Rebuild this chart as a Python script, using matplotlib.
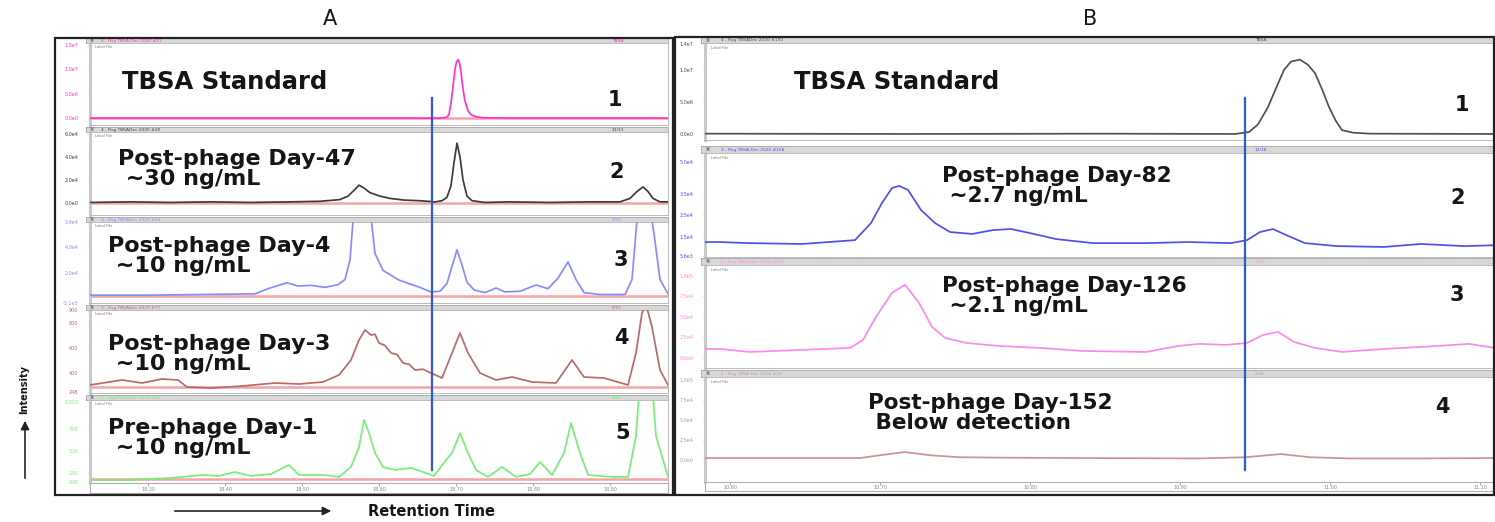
import matplotlib
matplotlib.use("Agg")
import matplotlib.pyplot as plt
from matplotlib.patches import Rectangle, FancyArrowPatch

W, H = 1495, 522

# ---------------- data (scan number vs. intensity) ----------------
# Panel A, retention window 1
a1_scan = [0, 100, 200, 300, 350, 357, 359, 361, 363, 365, 366.5, 368, 369.5, 371, 373, 375, 378, 381, 386, 392, 420, 500, 578]
a1_int = [0, 0, 0, 0, 0, 0.02, 0.08, 0.3, 0.65, 1.0, 1.15, 1.2, 1.13, 0.95, 0.6, 0.35, 0.15, 0.07, 0.03, 0.01, 0, 0, 0]

a2_scan = [0, 40, 80, 120, 160, 200, 230, 250, 258, 264, 269, 274, 280, 290, 300, 315, 330, 345, 352, 357, 361,
           364, 367, 370, 373, 377, 382, 395, 420, 460, 500, 530, 540, 547, 553, 558, 563, 570, 578]
a2_int = [0.05, 0.1, 0.05, 0.1, 0.05, 0.1, 0.15, 0.3, 0.6, 1.1, 1.55, 1.3, 0.9, 0.6, 0.4, 0.25, 0.2, 0.1, 0.2, 0.5, 1.5,
          3.5, 5.2, 4.0, 2.0, 0.6, 0.2, 0.05, 0.1, 0.05, 0.1, 0.1, 0.4, 1.0, 1.4, 1.0, 0.4, 0.1, 0.1]

a3_scan = [0, 60, 110, 165, 178, 197, 208, 221, 235, 248, 255, 260, 264, 272, 280, 285, 293, 309, 329, 341, 350, 357,
           362, 367, 372, 377, 384, 395, 406, 415, 430, 446, 458, 468, 478, 486, 494, 510, 535, 542, 548, 558, 564, 570, 578]
a3_int = [0.3, 0.3, 0.35, 0.4, 0.8, 1.25, 1.0, 1.05, 0.9, 1.1, 1.5, 3.0, 7.0, 9.0, 7.0, 3.5, 2.2, 1.45, 0.92, 0.55, 0.6,
          1.2, 2.5, 3.77, 2.6, 1.3, 0.7, 0.5, 0.85, 0.55, 0.6, 1.08, 0.8, 1.6, 2.85, 1.5, 0.5, 0.35, 0.35, 1.5, 7.0, 8.0,
          5.0, 1.5, 0.4]

a4_scan = [0, 32, 52, 72, 88, 97, 121, 153, 185, 209, 233, 249, 261, 269, 275, 281, 285, 289, 295, 301, 307, 313, 319,
           325, 333, 341, 352, 362, 370, 378, 390, 406, 422, 442, 466, 482, 494, 514, 538, 546, 552, 556, 562, 570, 578]
a4_int = [304, 344, 320, 352, 344, 288, 280, 296, 320, 312, 328, 384, 504, 664, 744, 704, 710, 640, 620, 560, 548, 480,
          470, 424, 430, 400, 360, 560, 720, 560, 400, 344, 368, 328, 320, 504, 368, 360, 304, 560, 880, 950, 768, 424, 304]

a5_scan = [0, 40, 80, 113, 129, 145, 161, 181, 199, 209, 233, 249, 261, 269, 274, 279, 285, 293, 305, 321, 333, 344,
           356, 362, 370, 378, 386, 398, 412, 426, 440, 450, 462, 474, 481, 490, 498, 522, 538, 546, 550, 562, 566, 578]
a5_int = [170, 170, 193, 227, 215, 261, 216, 238, 341, 227, 227, 205, 318, 545, 852, 704, 477, 318, 284, 307, 261, 216,
          398, 477, 704, 477, 284, 205, 318, 205, 238, 375, 227, 477, 818, 477, 227, 205, 205, 670, 1300, 1300, 670, 205]

# Panel B, retention window 2
b1_scan = [0, 200, 400, 530, 544, 553, 563, 572, 579, 586, 595, 603, 610, 617, 624, 631, 637, 648, 665, 790]
b1_int = [0.005, 0, 0.005, 0, 0.03, 0.15, 0.42, 0.75, 1.0, 1.13, 1.16, 1.08, 0.95, 0.7, 0.42, 0.2, 0.06, 0.02, 0.005, 0]

b2_scan = [0, 15, 44, 97, 150, 166, 177, 187, 194, 203, 216, 230, 245, 267, 288, 306, 325, 351, 388, 441, 483, 526,
           542, 555, 568, 581, 600, 632, 679, 716, 759, 790]
b2_int = [1.25, 1.25, 1.2, 1.16, 1.34, 2.14, 3.08, 3.78, 3.88, 3.69, 2.75, 2.14, 1.72, 1.63, 1.81, 1.86, 1.67, 1.39,
          1.2, 1.2, 1.25, 1.2, 1.34, 1.72, 1.86, 1.58, 1.2, 1.06, 1.02, 1.16, 1.06, 1.1]

b3_scan = [0, 15, 44, 97, 145, 158, 171, 187, 200, 214, 227, 240, 261, 293, 335, 378, 441, 473, 494, 521, 542, 558,
           573, 589, 610, 637, 679, 716, 764, 790]
b3_int = [1.1, 1.1, 0.73, 0.98, 1.22, 2.2, 5.0, 7.93, 8.9, 6.7, 3.78, 2.44, 1.83, 1.46, 1.22, 0.85, 0.73, 1.46, 1.71,
          1.59, 1.83, 2.8, 3.17, 1.95, 1.22, 0.73, 1.1, 1.34, 1.71, 1.22]

b4_scan = [0, 15, 155, 175, 200, 225, 255, 295, 375, 495, 540, 576, 605, 645, 715, 790]
b4_int = [0.25, 0.25, 0.25, 0.6, 1.0, 0.6, 0.35, 0.3, 0.25, 0.2, 0.35, 0.75, 0.35, 0.2, 0.2, 0.25]

a_marker = 342
b_marker = 540
a_base_levels = [0, 0, 0.2, 290, 180]

a_xticks = [58, 135, 212, 289, 366, 443, 520]
a_xticklabels = ["18.30", "18.40", "18.50", "18.60", "18.70", "18.80", "18.90"]
b_xticks = [25, 175, 325, 475, 625, 775]
b_xticklabels = ["10.60", "10.70", "10.80", "10.90", "11.00", "11.10"]

a_titles = ["TBSA Standard", "Post-phage Day-47\n ~30 ng/mL", "Post-phage Day-4\n ~10 ng/mL",
            "Post-phage Day-3\n ~10 ng/mL", "Pre-phage Day-1\n ~10 ng/mL"]
b_titles = ["TBSA Standard", "Post-phage Day-82\n ~2.7 ng/mL", "Post-phage Day-126\n ~2.1 ng/mL",
            "Post-phage Day-152\n Below detection"]
a_heads = ["6 - Rsg TBSA Dec 2020 #21", "4 - Rsg TBSADec 2020 #20", "3 - Rsg TBSADec 2020 #20",
           "2 - Rsg TBSADec 2020 #77", "1 - Rsg TBSADec 2020 #22"]
a_heads_r = ["TBSA", "11/11", "9/20", "8/10", "8/10"]
b_heads = ["4 - Rsg TBSADec 2020 #150", "3 - Rsg TBSA Dec 2020 #158", "2 - Rsg TBSA Dec 2020 #155",
           "1 - Rsg TBSA Dec 2020 #19"]
b_heads_r = ["TBSA", "12/18", "1/25", "2/24"]

a_yticks = [[0, 0.5, 1.0, 1.5], [0, 2, 4, 6], [-0.3, 2, 4, 5.9], [248, 400, 600, 800, 900], [148, 250, 500, 750, 1055]]
a_yticklabels = [["0.0e0", "5.0e6", "1.0e7", "1.5e7"], ["0.0e0", "2.0e4", "4.0e4", "6.0e4"],
                 ["-3.1e3", "2.0e4", "4.0e4", "5.9e4"], ["248", "400", "600", "800", "900"],
                 ["148", "250", "500", "750", "1,055"]]
b_yticks = [[0, 0.5, 1.0, 1.4], [0.6, 1.5, 2.5, 3.5, 5.0], [0, 2.5, 5, 7.5, 10], [0, 2.5, 5, 7.5, 10]]
b_yticklabels = [["0.0e0", "5.0e6", "1.0e7", "1.4e7"], ["5.6e3", "1.5e4", "2.5e4", "3.5e4", "5.0e4"],
                 ["0.0e0", "2.5e4", "5.0e4", "7.5e4", "1.0e5"], ["0.0e0", "2.5e4", "5.0e4", "7.5e4", "1.0e5"]]

# ---------------- layout / style ----------------
a_colors = ["#ff33cc", "#3c3c3c", "#8a8aff", "#b86a6a", "#77ee77"]
b_colors = ["#505050", "#5050e8", "#ff88ee", "#c89494"]
a_ylims = [(-0.14, 1.54), (-1.04, 6.17), (-0.3, 5.9), (240, 904), (136, 1079)]
b_ylims = [(-0.094, 1.42), (0.55, 5.42), (-1.22, 11.3), (-2.75, 10.4)]
a_rows = [(38, 43, 125), (127, 132, 215), (217, 222, 303), (305, 310, 393), (395, 400, 483)]
b_rows = [(37, 43, 140), (146, 153, 257), (258, 265, 368), (370, 377, 482)]
a_x0, a_x1 = 90, 668
b_x0, b_x1 = 705, 1495

fig = plt.figure(figsize=(W / 100, H / 100), dpi=100)
fig.patch.set_facecolor("white")


def box(x0, y0, x1, y1):
    return [x0 / W, 1 - y1 / H, (x1 - x0) / W, (y1 - y0) / H]


def draw_strip(x0, x1, row, scans, vals, color, ylim, yticks, ytl, head, head_r, head_r_px, xlim):
    hy, py0, py1 = row
    hax = fig.add_axes(box(x0 - 4, hy, x1, py0))
    hax.set_facecolor("#d8d8d8")
    hax.set_xticks([])
    hax.set_yticks([])
    for s in hax.spines.values():
        s.set_color("#a8a8a8")
        s.set_linewidth(0.6)
    hax.text(0.025, 0.45, head, color=color, fontsize=3.2, va="center", transform=hax.transAxes)
    hax.text(0.006, 0.45, "\u25a3", color="#777777", fontsize=3.2, va="center", transform=hax.transAxes)
    hax.text((head_r_px - x0 + 4) / (x1 - x0 + 4), 0.45, head_r, color=color, fontsize=3.2, va="center",
             transform=hax.transAxes)

    ax = fig.add_axes(box(x0, py0, x1, py1))
    ax.plot(scans, vals, color=color, lw=1.25, zorder=3)
    ax.set_xlim(xlim)
    ax.set_ylim(ylim)
    ax.set_xticks([])
    ax.set_yticks(yticks)
    ax.set_yticklabels(ytl, fontsize=3.5, color=color)
    ax.tick_params(axis="y", length=1.5, width=0.4, pad=7, color="#999999")
    for s in ax.spines.values():
        s.set_color("#b0b0b0")
        s.set_linewidth(0.6)
    ax.spines["left"].set_linewidth(2.2)
    ax.spines["left"].set_color("#c8c8c8")
    ax.text(0.008, 0.97, "Label File", fontsize=2.6, color="#777777", va="top", transform=ax.transAxes)
    return ax


# Panel A strips
a_data = [(a1_scan, a1_int), (a2_scan, a2_int), (a3_scan, a3_int), (a4_scan, a4_int), (a5_scan, a5_int)]
for i, (sc, iv) in enumerate(a_data):
    ax = draw_strip(a_x0, a_x1, a_rows[i], sc, iv, a_colors[i], a_ylims[i], a_yticks[i], a_yticklabels[i],
                    a_heads[i], a_heads_r[i], 612, (0, 578))
    ax.axhline(a_base_levels[i], color="#f5a3a3", lw=1.8, zorder=2)

# Panel B strips
b_data = [(b1_scan, b1_int), (b2_scan, b2_int), (b3_scan, b3_int), (b4_scan, b4_int)]
for i, (sc, iv) in enumerate(b_data):
    draw_strip(b_x0, b_x1, b_rows[i], sc, iv, b_colors[i], b_ylims[i], b_yticks[i], b_yticklabels[i],
               b_heads[i], b_heads_r[i], 1255, (0, 790))


def draw_time_band(x0, x1, y0, y1, xlim, ticks, labels):
    tax = fig.add_axes(box(x0, y0, x1, y1))
    tax.set_xlim(xlim)
    tax.set_ylim(0, 1)
    tax.set_yticks([])
    tax.set_xticks(ticks)
    tax.set_xticklabels([])
    tax.tick_params(axis="x", direction="in", length=2, width=0.5, color="#888888", top=True, bottom=False)
    for t, lab in zip(ticks, labels):
        tax.text(t, 0.35, lab, fontsize=3.5, color="#888888", ha="center", va="center")
    for s in tax.spines.values():
        s.set_color("#b0b0b0")
        s.set_linewidth(0.8)
    return tax


draw_time_band(a_x0, a_x1, 483, 493, (0, 578), a_xticks, a_xticklabels)
draw_time_band(b_x0, b_x1, 482, 491, (0, 790), b_xticks, b_xticklabels)

# marker lines at the expected TBSA retention time
for x0, x1, xl, m in [(a_x0, a_x1, (0, 578), a_marker), (b_x0, b_x1, (0, 790), b_marker)]:
    ov = fig.add_axes(box(x0, 38, x1, 495))
    ov.set_xlim(xl)
    ov.set_ylim(0, 1)
    ov.axis("off")
    ov.patch.set_alpha(0)
    ov.axvline(m, ymin=(495 - 470) / 457, ymax=(495 - 98) / 457, color="#3358c8", lw=1.6)

# outer frames
fig.patches.append(Rectangle((55 / W, 1 - 495 / H), (673 - 55) / W, (495 - 38) / H, transform=fig.transFigure,
                             fill=False, edgecolor="#222222", lw=1.6))
fig.patches.append(Rectangle((675 / W, 1 - 495 / H), (1494 - 675) / W, (495 - 37) / H, transform=fig.transFigure,
                             fill=False, edgecolor="#222222", lw=1.6))


def ftext(x, y, s, **kw):
    fig.text(x / W, 1 - y / H, s, **kw)


bold = dict(fontweight="bold", color="#151515", family="DejaVu Sans")
a_text_pos = [(122, 82), (118, 169), (108, 256), (108, 354), (108, 438)]
a_num_pos = [(615, 100), (617, 172), (621, 260), (621, 338), (623, 433)]
for i, t in enumerate(a_titles):
    size = 17.5 if i == 0 else 16
    ftext(*a_text_pos[i], t, fontsize=size, va="center", ha="left", linespacing=1.0, **bold)
    ftext(*a_num_pos[i], str(i + 1), fontsize=15, va="center", ha="center", **bold)

b_text_pos = [(794, 82), (942, 186), (942, 296), (868, 413)]
b_num_pos = [(1462, 105), (1458, 198), (1457, 295), (1442, 407)]
for i, t in enumerate(b_titles):
    size = 17.5 if i == 0 else 15.5
    ftext(*b_text_pos[i], t, fontsize=size, va="center", ha="left", linespacing=1.0, **bold)
    ftext(*b_num_pos[i], str(i + 1), fontsize=15, va="center", ha="center", **bold)

ftext(330, 19, "A", fontsize=15, ha="center", va="center", color="#151515")
ftext(1090, 19, "B", fontsize=15, ha="center", va="center", color="#151515")

ftext(432, 511, "Retention Time", fontsize=10.5, ha="center", va="center", **bold)
ftext(24, 390, "Intensity", fontsize=7, ha="center", va="center", rotation=90, **bold)

fig.patches.append(FancyArrowPatch((172 / W, 1 - 511 / H), (334 / W, 1 - 511 / H), transform=fig.transFigure,
                                   arrowstyle="-|>,head_length=5,head_width=2.5", color="#222222", lw=1.2))
fig.patches.append(FancyArrowPatch((25 / W, 1 - 481 / H), (25 / W, 1 - 418 / H), transform=fig.transFigure,
                                   arrowstyle="-|>,head_length=5,head_width=2.5", color="#222222", lw=1.2))

fig.savefig("out.png", dpi=100, facecolor="white")
